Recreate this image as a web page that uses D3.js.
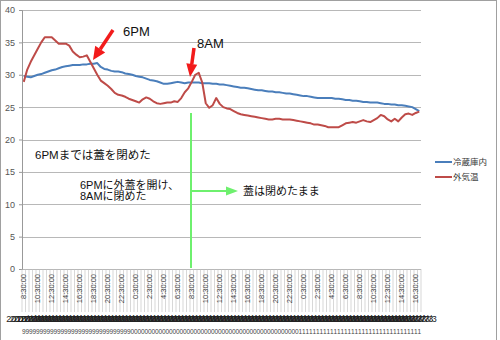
<!DOCTYPE html>
<html>
<head>
<meta charset="utf-8">
<script src="https://cdn.jsdelivr.net/npm/d3@7"></script>
<style>
  body { margin: 0; background: #fff; }
  text { font-family: "Liberation Sans", "Noto Sans CJK JP", sans-serif; }
</style>
</head>
<body>
<div id="chart"></div>
<script>
// 30 minute samples, 2013/7/29 8:30 -> 2013/7/31 17:00
var days = ["2013/7/29", "2013/7/30", "2013/7/31"];
var startHour = 8.5, stepHours = 0.5;

var fridge = [29.8,29.7,29.6,29.8,30.0,30.1,30.3,30.5,30.7,30.8,
  31.0,31.2,31.3,31.4,31.5,31.5,31.5,31.6,31.6,31.7,
  31.7,31.8,31.2,30.9,30.8,30.6,30.5,30.5,30.4,30.2,
  30.1,30.0,29.8,29.7,29.6,29.4,29.2,29.1,29.0,28.8,
  28.6,28.6,28.7,28.8,28.9,28.8,28.7,28.8,28.8,28.8,
  28.8,28.7,28.7,28.7,28.6,28.6,28.5,28.5,28.4,28.3,
  28.2,28.1,28.0,28.0,27.9,27.8,27.7,27.6,27.6,27.5,
  27.4,27.4,27.3,27.3,27.2,27.1,27.1,27.0,26.9,26.8,
  26.7,26.7,26.6,26.5,26.4,26.4,26.4,26.4,26.4,26.3,
  26.3,26.2,26.1,26.1,26.0,26.0,25.9,25.8,25.8,25.7,
  25.7,25.7,25.6,25.5,25.5,25.4,25.4,25.3,25.3,25.2,
  25.1,25.0,24.7,24.4];

var outside = [28.9,30.8,32.0,33.0,34.0,35.0,35.8,35.8,35.8,35.3,
  34.8,34.8,34.8,34.5,33.6,33.1,32.7,32.8,33.0,32.0,
  31.0,30.0,29.1,28.7,28.3,27.8,27.2,26.9,26.8,26.6,
  26.3,26.1,25.9,25.7,26.2,26.5,26.3,25.9,25.6,25.5,
  25.6,25.7,25.7,25.9,25.8,26.4,27.3,27.9,28.9,30.0,
  30.3,28.8,25.6,24.9,25.3,26.4,25.5,25.0,24.8,24.7,
  24.4,24.1,23.9,23.8,23.7,23.6,23.5,23.4,23.3,23.2,
  23.1,23.1,23.2,23.2,23.1,23.1,23.1,23.0,22.9,22.8,
  22.7,22.6,22.5,22.3,22.3,22.2,22.1,21.9,21.9,21.9,
  21.9,22.2,22.5,22.6,22.7,22.6,22.8,23.0,22.8,22.7,
  23.0,23.3,23.8,23.6,23.1,22.8,23.2,22.8,23.4,23.9,
  24.0,23.8,24.1,24.3];

var seriesNames = ["冷蔵庫内", "外気温"];
var seriesColors = ["#4a7ebb", "#be4b48"];
var yTicks = [0, 5, 10, 15, 20, 25, 30, 35, 40];

// category labels built from the sample index
var times = fridge.map(function(d, i) {
  var h = startHour + i * stepHours;
  var day = Math.floor(h / 24);
  h = h % 24;
  var hh = Math.floor(h), mm = Math.round((h - hh) * 60);
  return { i: i, day: days[day], time: hh + ":" + (mm < 10 ? "0" : "") + mm + ":00" };
});

var width = 500, height = 340;

var svg = d3.select("#chart").append("svg")
    .attr("width", width)
    .attr("height", height);

svg.append("rect")
    .attr("x", 0.5).attr("y", 0.5)
    .attr("width", 496).attr("height", 350)
    .attr("fill", "none")
    .attr("stroke", "#a0a0a0");

var x = d3.scaleBand()
    .domain(times.map(function(d) { return d.i; }))
    .range([22, 421]);

var y = d3.scaleLinear()
    .domain([0, 40])
    .range([269, 10]);

var cx = function(i) { return x(i) + x.bandwidth() / 2; };

// horizontal grid
svg.append("g")
  .selectAll("line")
  .data(yTicks)
  .enter().append("line")
    .attr("x1", 22).attr("x2", 421)
    .attr("y1", function(d) { return Math.round(y(d)) + 0.5; })
    .attr("y2", function(d) { return Math.round(y(d)) + 0.5; })
    .attr("stroke", "#b8b8b8")
    .attr("stroke-width", 1.2);

// y axis
var yAxis = svg.append("g")
    .attr("transform", "translate(22,0)")
    .call(d3.axisLeft(y).tickValues(yTicks).tickSize(3).tickPadding(4));
yAxis.select(".domain").attr("stroke", "#999");
yAxis.selectAll(".tick line").attr("stroke", "#999");
yAxis.selectAll("text").attr("fill", "#555").style("font-size", "9px");

// category separators below the axis
svg.append("g")
  .selectAll("line")
  .data(d3.range(times.length + 1))
  .enter().append("line")
    .attr("x1", function(d) { return x.step() * d + 22; })
    .attr("x2", function(d) { return x.step() * d + 22; })
    .attr("y1", 269).attr("y2", 312)
    .attr("stroke", "#bdbdbd")
    .attr("stroke-width", 0.6);

// rotated time labels, every 2 hours
svg.append("g")
  .selectAll("text")
  .data(times.filter(function(d) { return d.i % 4 === 0; }))
  .enter().append("text")
    .attr("transform", function(d) { return "translate(" + (cx(d.i) + 2.5) + ",274) rotate(-90)"; })
    .attr("text-anchor", "end")
    .style("font-size", "7.5px")
    .attr("fill", "#444")
    .text(function(d) { return d.time; });

// date labels, one per category (they overlap like the original)
var dates = svg.append("g");
dates.selectAll("text.d1")
  .data(times)
  .enter().append("text")
    .attr("class", "d1")
    .attr("x", function(d) { return cx(d.i); })
    .attr("y", 322)
    .attr("text-anchor", "middle")
    .style("font-size", "9px")
    .attr("fill", "#222")
    .text(function(d) { return d.day.slice(0, -1); });
dates.selectAll("text.d2")
  .data(times)
  .enter().append("text")
    .attr("class", "d2")
    .attr("x", function(d) { return cx(d.i); })
    .attr("y", 334)
    .attr("text-anchor", "middle")
    .style("font-size", "6.5px")
    .attr("fill", "#444")
    .text(function(d) { return d.day.slice(-1); });

// green marker line at 8AM
svg.append("line")
    .attr("x1", 191).attr("x2", 191)
    .attr("y1", 113).attr("y2", 268)
    .attr("stroke", "#6ef06e")
    .attr("stroke-width", 2);

// series lines
var line = d3.line()
    .x(function(d, i) { return cx(i); })
    .y(function(d) { return y(d); });

[fridge, outside].forEach(function(s, k) {
  svg.append("path")
      .datum(s)
      .attr("fill", "none")
      .attr("stroke", seriesColors[k])
      .attr("stroke-width", 2)
      .attr("stroke-linejoin", "round")
      .attr("d", line);
});

// legend
var legend = svg.append("g");
seriesNames.forEach(function(n, k) {
  var ly = 162 + k * 15;
  legend.append("line")
      .attr("x1", 435).attr("x2", 452)
      .attr("y1", ly).attr("y2", ly)
      .attr("stroke", seriesColors[k])
      .attr("stroke-width", 2);
  legend.append("text")
      .attr("x", 453).attr("y", ly + 3)
      .style("font-size", "8.5px")
      .attr("fill", "#333")
      .text(n);
});

// arrows
function arrow(x1, y1, x2, y2, color, w, hl, hw) {
  var a = Math.atan2(y2 - y1, x2 - x1),
      bx = x2 - hl * Math.cos(a), by = y2 - hl * Math.sin(a),
      px = -Math.sin(a) * hw / 2, py = Math.cos(a) * hw / 2;
  svg.append("line")
      .attr("x1", x1).attr("y1", y1).attr("x2", bx).attr("y2", by)
      .attr("stroke", color).attr("stroke-width", w);
  svg.append("path")
      .attr("d", "M" + x2 + "," + y2 + "L" + (bx + px) + "," + (by + py) + "L" + (bx - px) + "," + (by - py) + "Z")
      .attr("fill", color);
}
arrow(113, 30, 93, 60, "#f21b1b", 3.5, 13, 12);
arrow(194, 48, 190, 77, "#f21b1b", 3.5, 13, 11);
arrow(192, 191, 238, 191, "#6ef06e", 2, 12, 9);

// annotations
var notes = [
  { x: 123, y: 36, t: "6PM", s: 13 },
  { x: 197, y: 48, t: "8AM", s: 13 },
  { x: 35, y: 159, t: "6PMまでは蓋を閉めた", s: 11.5 },
  { x: 80, y: 189, t: "6PMに外蓋を開け、", s: 11 },
  { x: 80, y: 200, t: "8AMに閉めた", s: 11 },
  { x: 243, y: 195, t: "蓋は閉めたまま", s: 11 }
];
svg.append("g")
  .selectAll("text")
  .data(notes)
  .enter().append("text")
    .attr("x", function(d) { return d.x; })
    .attr("y", function(d) { return d.y; })
    .style("font-size", function(d) { return d.s + "px"; })
    .attr("fill", "#111")
    .text(function(d) { return d.t; });
</script>
</body>
</html>
